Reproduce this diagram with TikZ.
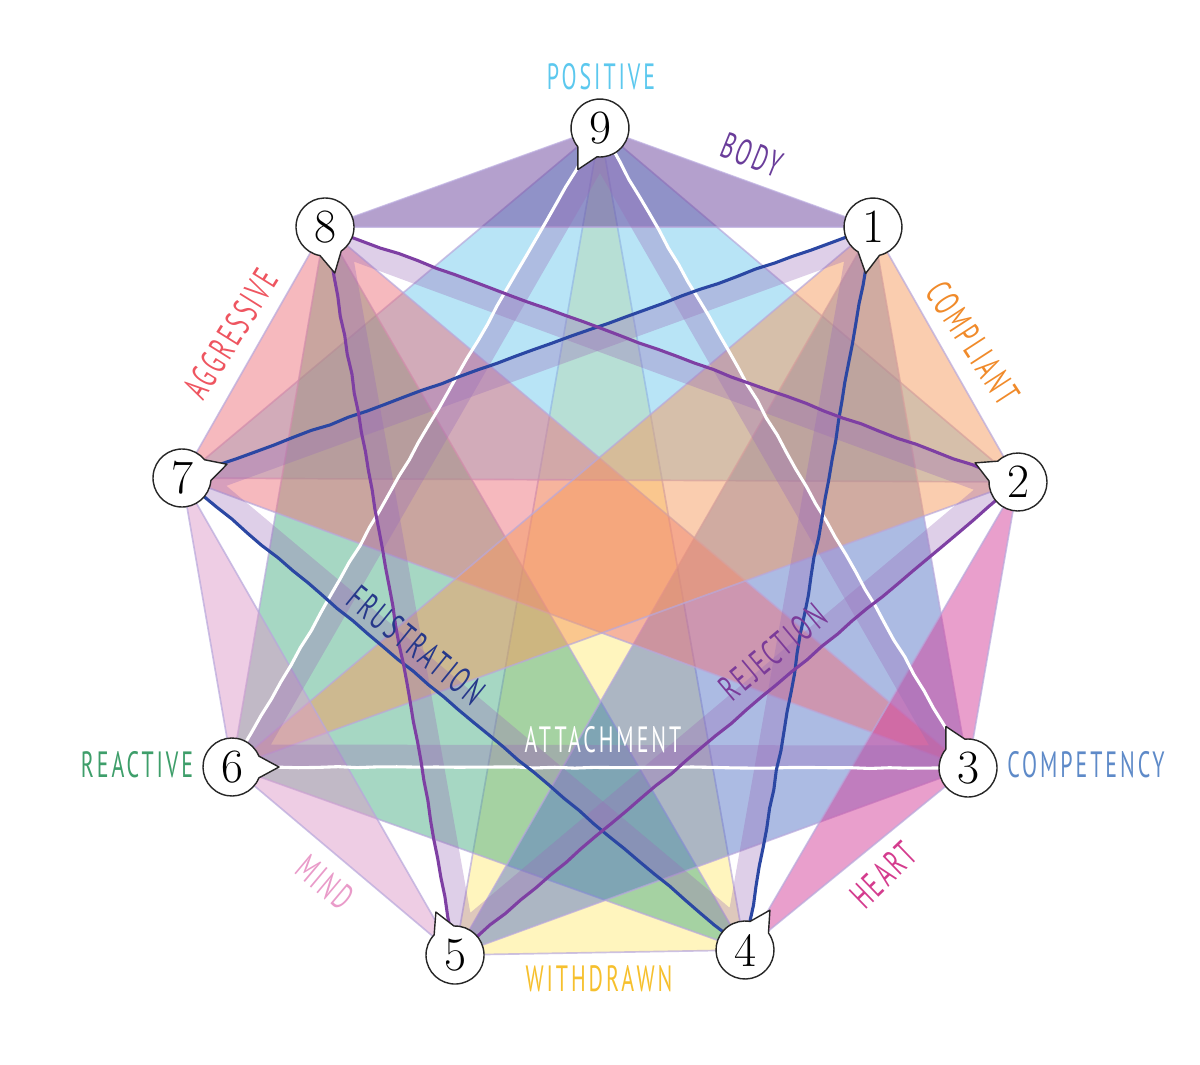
\documentclass[tikz,border=0pt]{standalone}
\usepackage{fontspec}
\newfontfamily\labelfont[FakeStretch=0.6,LetterSpace=8]{PT Sans}
\usetikzlibrary{calc,positioning,decorations.pathmorphing}

\definecolor{cPositive}{HTML}{71C9ED}
\definecolor{cBody}{HTML}{69419B}
\definecolor{cCompliant}{HTML}{F59B5F}
\definecolor{cAggressive}{HTML}{ED737D}
\definecolor{cReactive}{HTML}{4DB088}
\definecolor{cCompetency}{HTML}{5A78C8}
\definecolor{cWithdrawn}{HTML}{FFEB7D}
\definecolor{cHeart}{HTML}{D4409A}
\definecolor{cMind}{HTML}{DD9BC9}
\definecolor{cBand}{HTML}{9A6CB8}
\definecolor{cEdge}{HTML}{B8A8DC}
\definecolor{cFrust}{HTML}{2B47A3}
\definecolor{cReject}{HTML}{7E3FA3}
\definecolor{tPositive}{HTML}{5CC8EE}
\definecolor{tBody}{HTML}{6A3D9A}
\definecolor{tCompliant}{HTML}{F08A2A}
\definecolor{tCompetency}{HTML}{5E8AC8}
\definecolor{tHeart}{HTML}{D43C8E}
\definecolor{tWithdrawn}{HTML}{F6C02E}
\definecolor{tMind}{HTML}{E99BC9}
\definecolor{tReactive}{HTML}{3E9E6A}
\definecolor{tAggressive}{HTML}{EE5560}
\definecolor{tFrust}{HTML}{26388A}
\definecolor{tReject}{HTML}{7B3B99}

% speech bubble round a point: centre, direction of the tail
\newcommand{\bubble}[2]{%
  \draw[bubble] ($(#1)+(#2+22:29)$) arc[start angle=#2+22, end angle=#2+338, radius=29]
    -- ($(#1)+(#2:47)$) -- cycle;}

\begin{document}
\begin{tikzpicture}[x=0.025cm, y=-0.025cm, font=\labelfont,
group/.style={fill=#1, fill opacity=0.5, draw=cEdge, draw opacity=0.7, line width=1.2pt, line join=round},
band/.style={draw=cBand, draw opacity=0.33, line width=32pt, line join=round},
hand/.style={draw=#1, line width=2.2pt, line cap=round, decorate,
  decoration={random steps, segment length=14pt, amplitude=0.5pt}},
bubble/.style={fill=white, draw=black!85, line width=1pt, line join=round},
num/.style={circle, inner sep=0pt, font=\fontsize{34}{34}\selectfont},
lbl/.style={inner sep=0pt, font=\labelfont\fontsize{26}{26}\selectfont}]

\useasboundingbox (0,0) rectangle (1200,1064);

% Points
\coordinate (p9) at (600,128);
\coordinate (p1) at (873,227);
\coordinate (p2) at (1018,482);
\coordinate (p3) at (968,768);
\coordinate (p4) at (745,950);
\coordinate (p5) at (455,955);
\coordinate (p6) at (232,767);
\coordinate (p7) at (182,478);
\coordinate (p8) at (325,227);

% Triads
\path[group=cWithdrawn] (p9) -- (p4) -- (p5) -- cycle;
\path[group=cPositive] (p9) -- (p2) -- (p7) -- cycle;
\path[group=cReactive] (p8) -- (p4) -- (p6) -- cycle;
\path[group=cCompetency] (p1) -- (p3) -- (p5) -- cycle;
\path[group=cAggressive] (p8) -- (p3) -- (p7) -- cycle;
\path[group=cCompliant] (p1) -- (p2) -- (p6) -- cycle;
\path[group=cBody] (p8) -- (p9) -- (p1) -- cycle;
\path[group=cHeart] (p2) -- (p3) -- (p4) -- cycle;
\path[group=cMind] (p5) -- (p6) -- (p7) -- cycle;

% Bands inside the object relations triads
\foreach \a/\b/\c in {9/3/6, 1/4/7, 2/5/8} {
  \begin{scope}
    \clip (p\a) -- (p\b) -- (p\c) -- cycle;
    \draw[band] (p\a) -- (p\b) -- (p\c) -- cycle;
  \end{scope}
}

% Paths
\path[hand=white] (p9) -- (p3);
\path[hand=white] (p3) -- (p6);
\path[hand=white] (p6) -- (p9);
\path[hand=cFrust] (p1) -- (p4);
\path[hand=cFrust] (p4) -- (p7);
\path[hand=cFrust] (p7) -- (p1);
\path[hand=cReject] (p2) -- (p5);
\path[hand=cReject] (p5) -- (p8);
\path[hand=cReject] (p8) -- (p2);

% Bubbles
\bubble{p9}{118}
\bubble{p1}{99}
\bubble{p2}{204}
\bubble{p3}{242}
\bubble{p4}{302}
\bubble{p5}{246}
\bubble{p6}{0}
\bubble{p7}{343}
\bubble{p8}{78}

% Nodes
\node[num] (n9) at (p9) {9};
\node[num] (n1) at (p1) {1};
\node[num] (n2) at (p2) {2};
\node[num] (n3) at (p3) {3};
\node[num] (n4) at (p4) {4};
\node[num] (n5) at (p5) {5};
\node[num] (n6) at (p6) {6};
\node[num] (n7) at (p7) {7};
\node[num] (n8) at (p8) {8};

% Labels
\node[lbl, text=tPositive] (positive) at (601,77) {POSITIVE};
\node[lbl, text=tBody, rotate=-22] (body) at (752,155) {BODY};
\node[lbl, text=tCompliant, rotate=-57] (compliant) at (973,343) {COMPLIANT};
\node[lbl, text=tCompetency] (competency) at (1086,765) {COMPETENCY};
\node[lbl, text=tHeart, rotate=44] (heart) at (883,875) {HEART};
\node[lbl, text=tWithdrawn] (withdrawn) at (599,979) {WITHDRAWN};
\node[lbl, text=tMind, rotate=-40] (mind) at (325,882) {MIND};
\node[lbl, text=tReactive] (reactive) at (137,765) {REACTIVE};
\node[lbl, text=tAggressive, rotate=58] (aggressive) at (231,334) {AGGRESSIVE};
\node[lbl, text=tFrust, rotate=-39] (frustration) at (416,645) {FRUSTRATION};
\node[lbl, text=tReject, rotate=40] (rejection) at (773,652) {REJECTION};
\node[lbl, text=white] (attachment) at (603,740) {ATTACHMENT};
\end{tikzpicture}
\end{document}
